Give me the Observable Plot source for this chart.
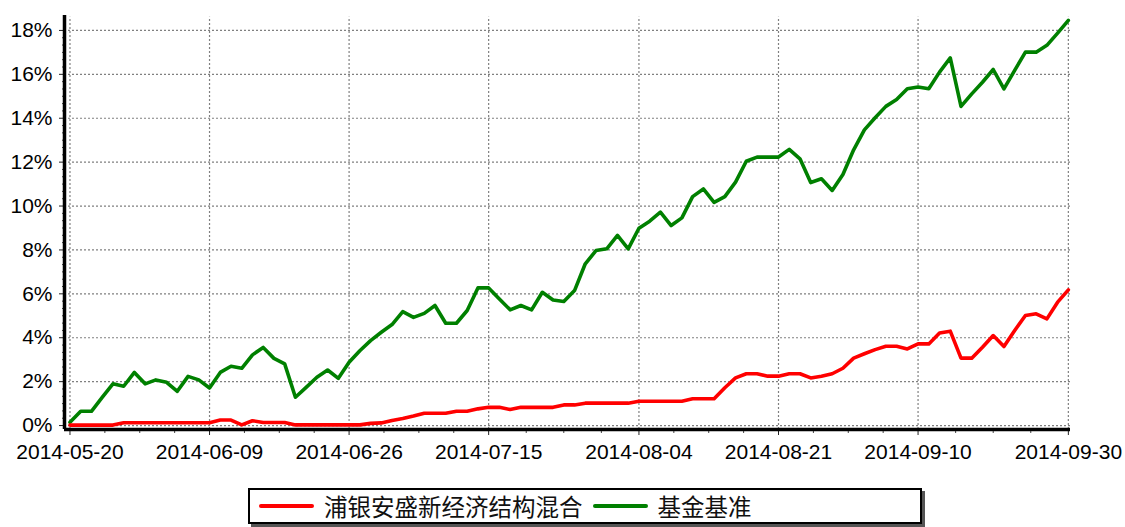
<!DOCTYPE html>
<html>
<head>
<meta charset="utf-8">
<script src="https://cdn.jsdelivr.net/npm/d3@7"></script>
<script src="https://cdn.jsdelivr.net/npm/@observablehq/plot@0.6"></script>
<style>
  body { margin: 0; background: #fff; }
  #wrap { position: relative; width: 1125px; height: 527px; background: #fff; }
  #chart { position: absolute; left: 0; top: 0; }
  #legend {
    position: absolute; left: 248px; top: 488px; width: 661px; height: 32px;
    border: 2px solid #000; background: #fff; box-shadow: 3px 3px 0 #555;
    display: flex; align-items: center; padding-left: 9px; box-sizing: content-box;
    font-family: "Noto Sans CJK SC", sans-serif; font-size: 23.5px; color: #111;
  }
  .sw { display: inline-block; width: 55px; height: 4px; border-radius: 2px; margin-right: 10px; }
  .lab { margin-right: 10px; line-height: 32px; }
</style>
</head>
<body>
<div id="wrap">
  <div id="chart"></div>
  <div id="legend"></div>
</div>
<script>
// ---- data ----
const dates = [
  "2014-05-20","2014-05-21","2014-05-22","2014-05-23","2014-05-26","2014-05-27","2014-05-28","2014-05-29","2014-05-30",
  "2014-06-03","2014-06-04","2014-06-05","2014-06-06","2014-06-09","2014-06-10","2014-06-11","2014-06-12","2014-06-13",
  "2014-06-16","2014-06-17","2014-06-18","2014-06-19","2014-06-20","2014-06-23","2014-06-24","2014-06-25","2014-06-26",
  "2014-06-27","2014-06-30","2014-07-01","2014-07-02","2014-07-03","2014-07-04","2014-07-07","2014-07-08","2014-07-09",
  "2014-07-10","2014-07-11","2014-07-14","2014-07-15","2014-07-16","2014-07-17","2014-07-18","2014-07-21","2014-07-22",
  "2014-07-23","2014-07-24","2014-07-25","2014-07-28","2014-07-29","2014-07-30","2014-07-31","2014-08-01","2014-08-04",
  "2014-08-05","2014-08-06","2014-08-07","2014-08-08","2014-08-11","2014-08-12","2014-08-13","2014-08-14","2014-08-15",
  "2014-08-18","2014-08-19","2014-08-20","2014-08-21","2014-08-22","2014-08-25","2014-08-26","2014-08-27","2014-08-28",
  "2014-08-29","2014-09-01","2014-09-02","2014-09-03","2014-09-04","2014-09-05","2014-09-09","2014-09-10","2014-09-11",
  "2014-09-12","2014-09-15","2014-09-16","2014-09-17","2014-09-18","2014-09-19","2014-09-22","2014-09-23","2014-09-24",
  "2014-09-25","2014-09-26","2014-09-29","2014-09-30"
];
const fundValues = [
  0.02,0.02,0.02,0.02,0.02,0.13,0.13,0.13,0.13,0.13,0.13,0.13,0.13,0.13,0.25,0.25,0.03,0.22,0.14,0.14,
  0.14,0.03,0.03,0.03,0.03,0.03,0.03,0.03,0.10,0.12,0.23,0.32,0.43,0.56,0.56,0.56,0.65,0.65,0.76,0.83,
  0.83,0.73,0.83,0.83,0.83,0.83,0.94,0.94,1.02,1.02,1.02,1.02,1.02,1.11,1.11,1.11,1.11,1.11,1.22,1.22,
  1.22,1.72,2.17,2.36,2.36,2.25,2.25,2.36,2.36,2.17,2.25,2.36,2.61,3.07,3.27,3.46,3.61,3.61,3.49,3.72,
  3.72,4.22,4.30,3.07,3.07,3.57,4.10,3.60,4.33,5.01,5.09,4.86,5.62,6.18
];
const benchValues = [
  0.15,0.65,0.65,1.28,1.90,1.79,2.42,1.90,2.08,1.97,1.56,2.24,2.08,1.71,2.42,2.70,2.61,3.22,3.56,3.06,
  2.81,1.29,1.74,2.20,2.53,2.15,2.88,3.41,3.87,4.25,4.60,5.19,4.93,5.11,5.47,4.66,4.66,5.24,6.27,6.27,
  5.77,5.27,5.47,5.27,6.07,5.72,5.65,6.15,7.37,7.97,8.05,8.66,8.05,8.99,9.31,9.72,9.11,9.46,10.43,10.78,
  10.17,10.43,11.09,12.04,12.23,12.23,12.23,12.58,12.15,11.07,11.24,10.71,11.44,12.56,13.47,14.02,14.54,14.85,15.34,15.42,
  15.34,16.10,16.75,14.54,15.11,15.64,16.22,15.34,16.18,17.01,17.01,17.32,17.88,18.46
];
const seriesNames = ["浦银安盛新经济结构混合", "基金基准"];
const seriesColors = ["#ff0000", "#008000"];
const xTickDates = ["2014-05-20","2014-06-09","2014-06-26","2014-07-15","2014-08-04","2014-08-21","2014-09-10","2014-09-30"];
const yTicks = [0, 2, 4, 6, 8, 10, 12, 14, 16, 18];

// ---- derived ----
const rows = [];
dates.forEach((d, i) => {
  rows.push({ i, date: d, v: benchValues[i], s: seriesNames[1] });
});
dates.forEach((d, i) => {
  rows.push({ i, date: d, v: fundValues[i], s: seriesNames[0] });
});
const xTickIdx = xTickDates.map(d => dates.indexOf(d));
const minorX = [];
for (let k = 0; k < xTickIdx.length - 1; k++) {
  const a = xTickIdx[k], b = xTickIdx[k + 1];
  for (let q = 1; q < 4; q++) minorX.push(a + (b - a) * q / 4);
}
const minorY = d3.range(0, 18.01, 1 / 3).filter(v => Math.abs(v / 2 - Math.round(v / 2)) > 0.01);

const xDomain = [-0.51, dates.length - 1 + 0.2];
const yDomain = [-0.18, 18.68];

const chart = Plot.plot({
  width: 1125,
  height: 478,
  marginLeft: 64,
  marginRight: 55,
  marginTop: 15,
  marginBottom: 49,
  style: { fontFamily: "'Liberation Sans', Arial, sans-serif", color: "#000", background: "#fff" },
  x: { type: "linear", domain: xDomain, axis: null },
  y: { domain: yDomain, axis: null },
  color: { domain: seriesNames, range: seriesColors },
  marks: [
    Plot.ruleY(yTicks, { stroke: "#808080", strokeWidth: 1.2, strokeDasharray: "2,2" }),
    Plot.ruleX(xTickIdx, { y1: yDomain[0], y2: 18.6, stroke: "#808080", strokeWidth: 1.2, strokeDasharray: "2,2" }),
    Plot.line(rows, { x: "i", y: "v", z: "s", stroke: "s", strokeWidth: 3.6, strokeLinejoin: "round" }),
    Plot.axisY({ ticks: minorY, tickSize: 4, tickFormat: () => "", label: null, stroke: "#444", dx: 2 }),
    Plot.axisY({ ticks: yTicks, tickSize: 7, tickPadding: 7, tickFormat: d => d + "%", label: null, fontSize: 21, stroke: "#222", fill: "#000", dx: 2 }),
    Plot.axisX({ ticks: minorX, tickSize: 4, tickFormat: () => "", label: null, stroke: "#444" }),
    Plot.axisX({ ticks: xTickIdx, tickSize: 6, tickPadding: 9, tickFormat: i => dates[i], label: null, fontSize: 21, stroke: "#222", fill: "#000" }),
    Plot.ruleX([xDomain[0]], { y1: yDomain[0], y2: yDomain[1], stroke: "#000", strokeWidth: 3.5 }),
    Plot.ruleY([yDomain[0]], { x1: xDomain[0], x2: xDomain[1], stroke: "#000", strokeWidth: 3.5 })
  ]
});
document.getElementById("chart").appendChild(chart);

const legend = document.getElementById("legend");
seriesNames.forEach((name, k) => {
  const sw = document.createElement("span");
  sw.className = "sw";
  sw.style.background = seriesColors[k];
  const lab = document.createElement("span");
  lab.className = "lab";
  lab.textContent = name;
  legend.appendChild(sw);
  legend.appendChild(lab);
});
</script>
</body>
</html>
